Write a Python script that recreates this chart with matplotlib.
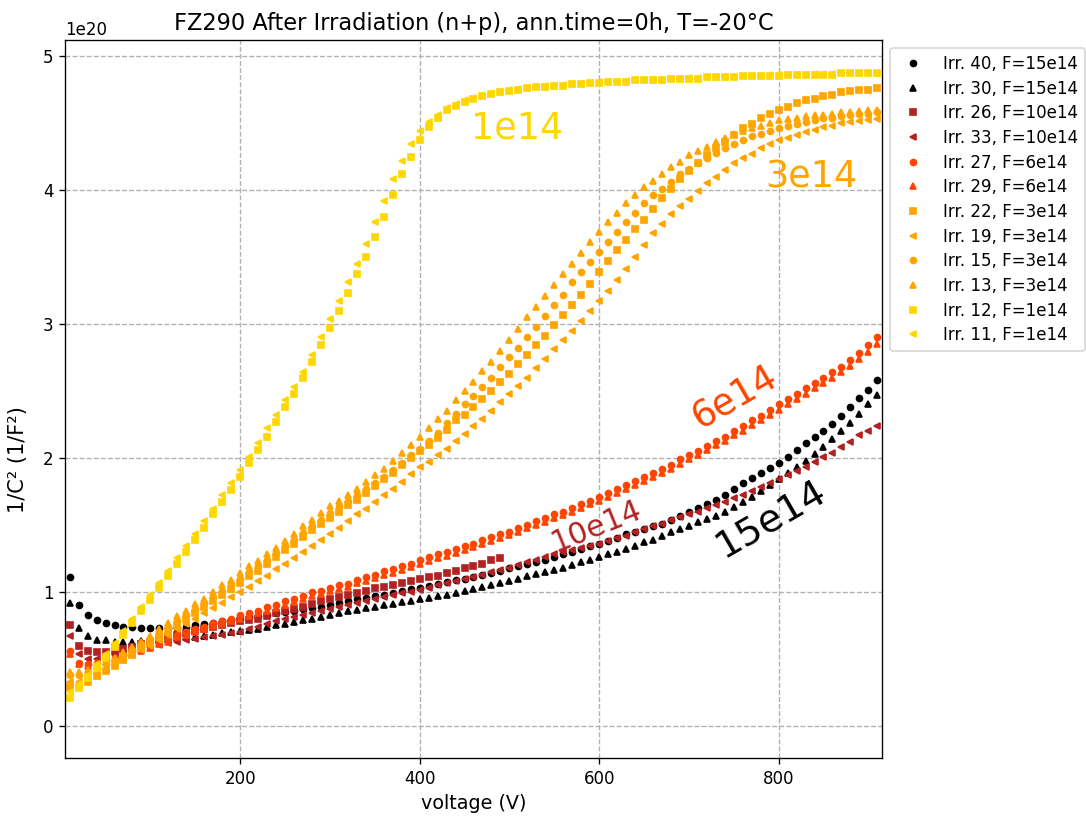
import numpy as np
import matplotlib
matplotlib.use('Agg')
import matplotlib.pyplot as plt

# bias voltage grid (V), 10 V steps
volt = np.arange(10, 920, 10)

# 1/C^2 values in units of 1e20 1/F^2
irr40 = [1.11, 0.90, 0.83, 0.79, 0.77, 0.75, 0.74, 0.74, 0.73, 0.73,
         0.73, 0.73, 0.73, 0.74, 0.75, 0.76, 0.77, 0.78, 0.79, 0.80,
         0.81, 0.82, 0.83, 0.84, 0.85, 0.86, 0.87, 0.88, 0.89, 0.90,
         0.915, 0.93, 0.945, 0.955, 0.97, 0.98, 0.99, 1.005, 1.02, 1.03,
         1.045, 1.06, 1.075, 1.09, 1.10, 1.115, 1.13, 1.145, 1.16, 1.175,
         1.19, 1.21, 1.225, 1.24, 1.26, 1.28, 1.30, 1.32, 1.34, 1.36,
         1.38, 1.40, 1.43, 1.45, 1.47, 1.49, 1.51, 1.54, 1.57, 1.60,
         1.63, 1.66, 1.69, 1.72, 1.765, 1.81, 1.85, 1.89, 1.925, 1.96,
         2.01, 2.06, 2.11, 2.16, 2.20, 2.25, 2.315, 2.38, 2.445, 2.51, 2.58]
irr30 = [0.92, 0.73, 0.67, 0.645, 0.64, 0.63, 0.63, 0.63, 0.635, 0.64,
         0.645, 0.65, 0.655, 0.66, 0.665, 0.67, 0.68, 0.69, 0.70, 0.705,
         0.715, 0.725, 0.735, 0.75, 0.76, 0.775, 0.79, 0.80, 0.815, 0.83,
         0.84, 0.855, 0.866, 0.878, 0.89, 0.90, 0.912, 0.923, 0.935, 0.945,
         0.957, 0.968, 0.98, 0.99, 1.005, 1.02, 1.035, 1.05, 1.07, 1.085,
         1.10, 1.12, 1.135, 1.15, 1.165, 1.18, 1.20, 1.22, 1.24, 1.26,
         1.28, 1.30, 1.32, 1.345, 1.37, 1.39, 1.42, 1.445, 1.47, 1.495,
         1.52, 1.545, 1.57, 1.60, 1.635, 1.67, 1.71, 1.75, 1.795, 1.84,
         1.885, 1.93, 1.98, 2.03, 2.085, 2.14, 2.20, 2.26, 2.33, 2.40, 2.47]
irr26 = [0.75, 0.60, 0.56, 0.55, 0.55, 0.56, 0.575, 0.59, 0.61, 0.625,
         0.645, 0.66, 0.675, 0.69, 0.71, 0.725, 0.74, 0.75, 0.765, 0.78,
         0.79, 0.80, 0.82, 0.84, 0.855, 0.87, 0.89, 0.91, 0.935, 0.95,
         0.965, 0.98, 0.995, 1.01, 1.03, 1.04, 1.05, 1.065, 1.08, 1.10,
         1.11, 1.12, 1.14, 1.16, 1.18, 1.195, 1.21, 1.235, 1.25]
irr33 = [0.67, 0.535, 0.50, 0.50, 0.51, 0.53, 0.545, 0.56, 0.575, 0.59,
         0.605, 0.62, 0.63, 0.64, 0.65, 0.66, 0.67, 0.68, 0.69, 0.70,
         0.72, 0.74, 0.76, 0.78, 0.80, 0.815, 0.83, 0.845, 0.86, 0.875,
         0.89, 0.90, 0.915, 0.93, 0.945, 0.96, 0.975, 0.99, 1.00, 1.015,
         1.03, 1.05, 1.065, 1.08, 1.10, 1.115, 1.13, 1.15, 1.165, 1.18,
         1.20, 1.22, 1.24, 1.26, 1.28, 1.295, 1.31, 1.33, 1.345, 1.36,
         1.38, 1.40, 1.42, 1.445, 1.47, 1.49, 1.51, 1.535, 1.56, 1.58,
         1.60, 1.625, 1.65, 1.675, 1.70, 1.725, 1.75, 1.78, 1.81, 1.84,
         1.87, 1.90, 1.935, 1.97, 2.01, 2.04, 2.08, 2.12, 2.17, 2.20, 2.24]
irr27 = [0.56, 0.47, 0.46, 0.47, 0.49, 0.51, 0.53, 0.56, 0.58, 0.60,
         0.63, 0.65, 0.68, 0.70, 0.72, 0.74, 0.77, 0.78, 0.80, 0.83,
         0.84, 0.86, 0.885, 0.90, 0.93, 0.95, 0.97, 1.00, 1.01, 1.03,
         1.05, 1.06, 1.09, 1.11, 1.13, 1.16, 1.17, 1.19, 1.21, 1.24,
         1.26, 1.28, 1.30, 1.32, 1.34, 1.36, 1.39, 1.41, 1.43, 1.45,
         1.48, 1.50, 1.53, 1.55, 1.58, 1.60, 1.63, 1.66, 1.68, 1.71,
         1.74, 1.77, 1.80, 1.83, 1.86, 1.89, 1.92, 1.95, 1.99, 2.02,
         2.05, 2.09, 2.13, 2.16, 2.20, 2.24, 2.28, 2.31, 2.36, 2.40,
         2.44, 2.48, 2.52, 2.56, 2.60, 2.64, 2.68, 2.73, 2.78, 2.84, 2.90]
irr29 = [0.54, 0.46, 0.45, 0.46, 0.48, 0.50, 0.52, 0.54, 0.56, 0.58,
         0.61, 0.63, 0.66, 0.68, 0.70, 0.72, 0.745, 0.76, 0.78, 0.80,
         0.82, 0.84, 0.86, 0.88, 0.90, 0.925, 0.945, 0.97, 0.985, 1.005,
         1.025, 1.04, 1.065, 1.085, 1.105, 1.13, 1.145, 1.165, 1.185, 1.21,
         1.23, 1.25, 1.27, 1.29, 1.31, 1.335, 1.36, 1.38, 1.40, 1.425,
         1.45, 1.475, 1.50, 1.525, 1.55, 1.575, 1.60, 1.63, 1.655, 1.68,
         1.71, 1.74, 1.77, 1.80, 1.83, 1.86, 1.89, 1.92, 1.955, 1.99,
         2.02, 2.06, 2.095, 2.13, 2.17, 2.205, 2.245, 2.28, 2.32, 2.36,
         2.40, 2.44, 2.48, 2.52, 2.56, 2.60, 2.645, 2.69, 2.74, 2.79, 2.85]
irr22 = [0.29, 0.29, 0.33, 0.37, 0.41, 0.45, 0.49, 0.53, 0.58, 0.62,
         0.66, 0.71, 0.75, 0.80, 0.84, 0.89, 0.93, 0.98, 1.02, 1.07,
         1.12, 1.16, 1.21, 1.26, 1.31, 1.36, 1.41, 1.46, 1.51, 1.55,
         1.60, 1.65, 1.69, 1.74, 1.79, 1.84, 1.89, 1.95, 2.00, 2.05,
         2.10, 2.15, 2.21, 2.28, 2.32, 2.38, 2.44, 2.50, 2.57, 2.63,
         2.70, 2.77, 2.84, 2.91, 2.99, 3.07, 3.14, 3.22, 3.30, 3.39,
         3.47, 3.55, 3.63, 3.71, 3.78, 3.86, 3.94, 4.01, 4.08, 4.14,
         4.20, 4.26, 4.31, 4.36, 4.41, 4.46, 4.49, 4.54, 4.57, 4.60,
         4.62, 4.65, 4.67, 4.68, 4.70, 4.71, 4.73, 4.74, 4.75, 4.75, 4.76]
irr19 = [0.33, 0.33, 0.35, 0.38, 0.42, 0.46, 0.49, 0.53, 0.57, 0.60,
         0.64, 0.68, 0.72, 0.76, 0.80, 0.84, 0.88, 0.92, 0.96, 1.00,
         1.04, 1.08, 1.12, 1.17, 1.21, 1.25, 1.30, 1.34, 1.39, 1.43,
         1.48, 1.53, 1.58, 1.62, 1.67, 1.72, 1.77, 1.82, 1.88, 1.93,
         1.97, 2.02, 2.07, 2.13, 2.18, 2.24, 2.29, 2.35, 2.42, 2.48,
         2.54, 2.60, 2.67, 2.74, 2.81, 2.88, 2.95, 3.02, 3.10, 3.17,
         3.25, 3.33, 3.41, 3.50, 3.59, 3.68, 3.75, 3.82, 3.88, 3.93,
         3.99, 4.05, 4.10, 4.15, 4.20, 4.24, 4.27, 4.31, 4.34, 4.37,
         4.39, 4.41, 4.43, 4.45, 4.47, 4.48, 4.50, 4.51, 4.515, 4.52, 4.53]
irr15 = [0.38, 0.38, 0.40, 0.43, 0.46, 0.49, 0.53, 0.57, 0.61, 0.65,
         0.69, 0.74, 0.78, 0.83, 0.87, 0.92, 0.96, 1.01, 1.06, 1.10,
         1.15, 1.19, 1.24, 1.29, 1.34, 1.39, 1.44, 1.49, 1.54, 1.59,
         1.64, 1.68, 1.72, 1.77, 1.81, 1.86, 1.91, 1.96, 2.02, 2.07,
         2.13, 2.19, 2.26, 2.33, 2.40, 2.46, 2.53, 2.60, 2.68, 2.75,
         2.82, 2.90, 2.98, 3.06, 3.14, 3.22, 3.31, 3.39, 3.46, 3.54,
         3.61, 3.69, 3.76, 3.83, 3.90, 3.96, 4.01, 4.06, 4.12, 4.16,
         4.20, 4.24, 4.28, 4.31, 4.34, 4.37, 4.40, 4.42, 4.44, 4.46,
         4.48, 4.49, 4.51, 4.52, 4.535, 4.54, 4.55, 4.56, 4.565, 4.57, 4.58]
irr13 = [0.40, 0.40, 0.42, 0.45, 0.48, 0.51, 0.55, 0.59, 0.63, 0.67,
         0.72, 0.77, 0.82, 0.86, 0.91, 0.95, 1.00, 1.05, 1.09, 1.14,
         1.19, 1.23, 1.28, 1.33, 1.38, 1.43, 1.49, 1.54, 1.59, 1.64,
         1.68, 1.72, 1.77, 1.82, 1.87, 1.92, 1.98, 2.04, 2.10, 2.16,
         2.22, 2.29, 2.35, 2.43, 2.50, 2.57, 2.65, 2.72, 2.80, 2.88,
         2.96, 3.05, 3.13, 3.21, 3.29, 3.37, 3.45, 3.53, 3.61, 3.69,
         3.76, 3.83, 3.90, 3.96, 4.02, 4.07, 4.12, 4.17, 4.21, 4.26,
         4.29, 4.32, 4.36, 4.39, 4.42, 4.44, 4.46, 4.48, 4.50, 4.52,
         4.53, 4.54, 4.55, 4.56, 4.56, 4.57, 4.58, 4.585, 4.59, 4.595, 4.60]
irr12 = [0.21, 0.28, 0.36, 0.43, 0.51, 0.59, 0.68, 0.77, 0.86, 0.94,
         1.03, 1.12, 1.21, 1.30, 1.39, 1.48, 1.58, 1.67, 1.76, 1.86,
         1.96, 2.06, 2.16, 2.27, 2.38, 2.48, 2.60, 2.72, 2.84, 2.97,
         3.10, 3.23, 3.37, 3.50, 3.65, 3.80, 3.96, 4.12, 4.25, 4.37,
         4.47, 4.54, 4.60, 4.63, 4.66, 4.68, 4.70, 4.72, 4.73, 4.74,
         4.75, 4.76, 4.77, 4.77, 4.78, 4.78, 4.79, 4.79, 4.80, 4.80,
         4.81, 4.81, 4.81, 4.82, 4.82, 4.82, 4.82, 4.83, 4.83, 4.83,
         4.83, 4.84, 4.84, 4.84, 4.84, 4.85, 4.85, 4.85, 4.85, 4.85,
         4.86, 4.86, 4.86, 4.86, 4.86, 4.86, 4.87, 4.87, 4.87, 4.87, 4.87]
irr11 = [0.25, 0.31, 0.38, 0.46, 0.54, 0.62, 0.71, 0.80, 0.89, 0.98,
         1.07, 1.16, 1.25, 1.34, 1.43, 1.53, 1.62, 1.72, 1.81, 1.91,
         2.01, 2.11, 2.22, 2.32, 2.43, 2.53, 2.64, 2.77, 2.90, 3.04,
         3.17, 3.31, 3.45, 3.60, 3.76, 3.92, 4.08, 4.22, 4.34, 4.44,
         4.51, 4.56, 4.61, 4.64, 4.67, 4.69, 4.705, 4.72, 4.73, 4.745,
         4.755, 4.76, 4.77, 4.775, 4.78, 4.785, 4.79, 4.795, 4.80, 4.805,
         4.81, 4.81, 4.815, 4.82, 4.82, 4.825, 4.825, 4.83, 4.83, 4.835,
         4.835, 4.84, 4.84, 4.845, 4.845, 4.85, 4.85, 4.85, 4.855, 4.855,
         4.86, 4.86, 4.86, 4.865, 4.865, 4.865, 4.87, 4.87, 4.87, 4.875, 4.875]

labels = ['Irr. 40, F=15e14', 'Irr. 30, F=15e14', 'Irr. 26, F=10e14', 'Irr. 33, F=10e14',
          'Irr. 27, F=6e14', 'Irr. 29, F=6e14', 'Irr. 22, F=3e14', 'Irr. 19, F=3e14',
          'Irr. 15, F=3e14', 'Irr. 13, F=3e14', 'Irr. 12, F=1e14', 'Irr. 11, F=1e14']
series = [irr40, irr30, irr26, irr33, irr27, irr29, irr22, irr19, irr15, irr13, irr12, irr11]
colors = ['black', 'black', 'firebrick', 'firebrick', 'orangered', 'orangered',
          'orange', 'orange', 'orange', 'orange', 'gold', 'gold']
markers = ['o', '^', 's', '<', 'o', '^', 's', '<', 'o', '^', 's', '<']

fig = plt.figure(figsize=(9.05, 6.8), dpi=120)
ax = fig.add_subplot(111)
fig.subplots_adjust(left=0.06, right=0.812, bottom=0.071, top=0.951)

for vals, lab, c, m in zip(series, labels, colors, markers):
    v = volt[:len(vals)]
    ax.plot(v, np.array(vals) * 1e20, linestyle='none', marker=m, ms=3.6,
            color=c, label=lab)

# fluence annotations
ax.text(509, 4.46e20, '1e14', color='gold', fontsize=22, ha='center', va='center')
ax.text(836, 4.10e20, '3e14', color='orange', fontsize=22, ha='center', va='center')
ax.text(751, 2.45e20, '6e14', color='orangered', fontsize=22, rotation=30,
        ha='center', va='center')
ax.text(597, 1.49e20, '10e14', color='firebrick', fontsize=18, rotation=22,
        ha='center', va='center')
ax.text(792, 1.55e20, '15e14', color='black', fontsize=23, rotation=30,
        ha='center', va='center')

ax.set_xlim(5, 915)
ax.set_ylim(-0.24e20, 5.12e20)
ax.grid(True, linestyle='--', color='#b0b0b0')
ax.set_xlabel('voltage (V)', fontsize=11.5)
ax.set_ylabel('1/C² (1/F²)', fontsize=12.5)
ax.yaxis.set_label_coords(-0.045, 0.415)
ax.set_title('FZ290 After Irradiation (n+p), ann.time=0h, T=-20°C', fontsize=13.5)
ax.legend(loc='upper left', bbox_to_anchor=(1, 1), labelspacing=0.4)

fig.savefig('out.png', dpi=120)
